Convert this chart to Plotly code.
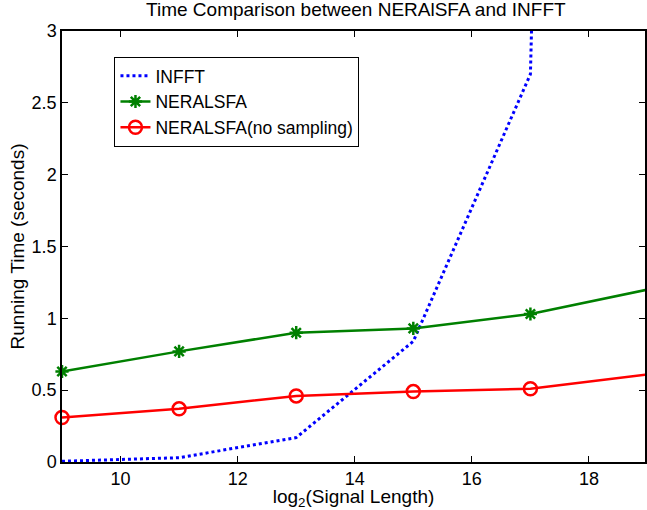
import plotly.graph_objects as go

x_vals = [9, 11, 13, 15, 17, 19]
infft = [0.005, 0.03, 0.17, 0.84, 2.7, 35.0]
neralsfa = [0.63, 0.77, 0.90, 0.93, 1.03, 1.20]
neralsfa_ns = [0.31, 0.37, 0.46, 0.49, 0.51, 0.61]
x_ticks = [10, 12, 14, 16, 18]
y_ticks = [0, 0.5, 1, 1.5, 2, 2.5, 3]

FONT = "Liberation Sans, Arial, sans-serif"

fig = go.Figure()
fig.add_trace(go.Scatter(
    x=x_vals, y=infft, mode="lines", name="INFFT",
    line=dict(color="#0000ff", width=3, dash="dot"),
))
fig.add_trace(go.Scatter(
    x=x_vals, y=neralsfa, mode="lines+markers", name="NERALSFA",
    line=dict(color="#008000", width=2.5),
    marker=dict(symbol="asterisk-open", size=11, color="#008000",
                line=dict(color="#008000", width=2.5)),
    cliponaxis=False,
))
fig.add_trace(go.Scatter(
    x=x_vals, y=neralsfa_ns, mode="lines+markers", name="NERALSFA(no sampling)",
    line=dict(color="#ff0000", width=2.5),
    marker=dict(symbol="circle-open", size=13, color="#ff0000",
                line=dict(color="#ff0000", width=2.5)),
    cliponaxis=False,
))

fig.update_layout(
    width=647, height=510,
    margin=dict(l=62, r=0, t=31, b=48),
    paper_bgcolor="white", plot_bgcolor="white",
    font=dict(family=FONT, size=18, color="black"),
    title=dict(text="Time Comparison between NERAlSFA and INFFT",
               x=0.55, xanchor="center", y=0.995, yanchor="top",
               font=dict(size=19, family=FONT, color="black")),
    showlegend=True,
    legend=dict(x=0.09, y=0.94, xanchor="left", yanchor="top",
                bgcolor="white", bordercolor="black", borderwidth=1,
                font=dict(size=17.5, family=FONT), itemwidth=30,
                tracegroupgap=0),
)
fig.update_xaxes(
    range=[9, 18.957], tickvals=x_ticks, ticktext=[str(v) for v in x_ticks],
    showgrid=False, zeroline=False, showline=True, linecolor="black", linewidth=1.5,
    mirror="ticks", ticks="inside", ticklen=6, tickcolor="black",
    tickfont=dict(size=18),
    title=dict(text="log<sub>2</sub>(Signal Length)", standoff=7, font=dict(size=19)),
)
fig.update_yaxes(
    range=[0, 3], tickvals=y_ticks, ticktext=["0", "0.5", "1", "1.5", "2", "2.5", "3"],
    showgrid=False, zeroline=False, showline=True, linecolor="black", linewidth=1.5,
    mirror="ticks", ticks="inside", ticklen=6, tickcolor="black",
    tickfont=dict(size=18),
    title=dict(text="Running Time (seconds)", standoff=2, font=dict(size=19)),
)

fig.write_html(
    "out.html",
    config={"displayModeBar": False},
    post_script="document.body.style.margin='0';document.body.style.overflow='hidden';",
)
